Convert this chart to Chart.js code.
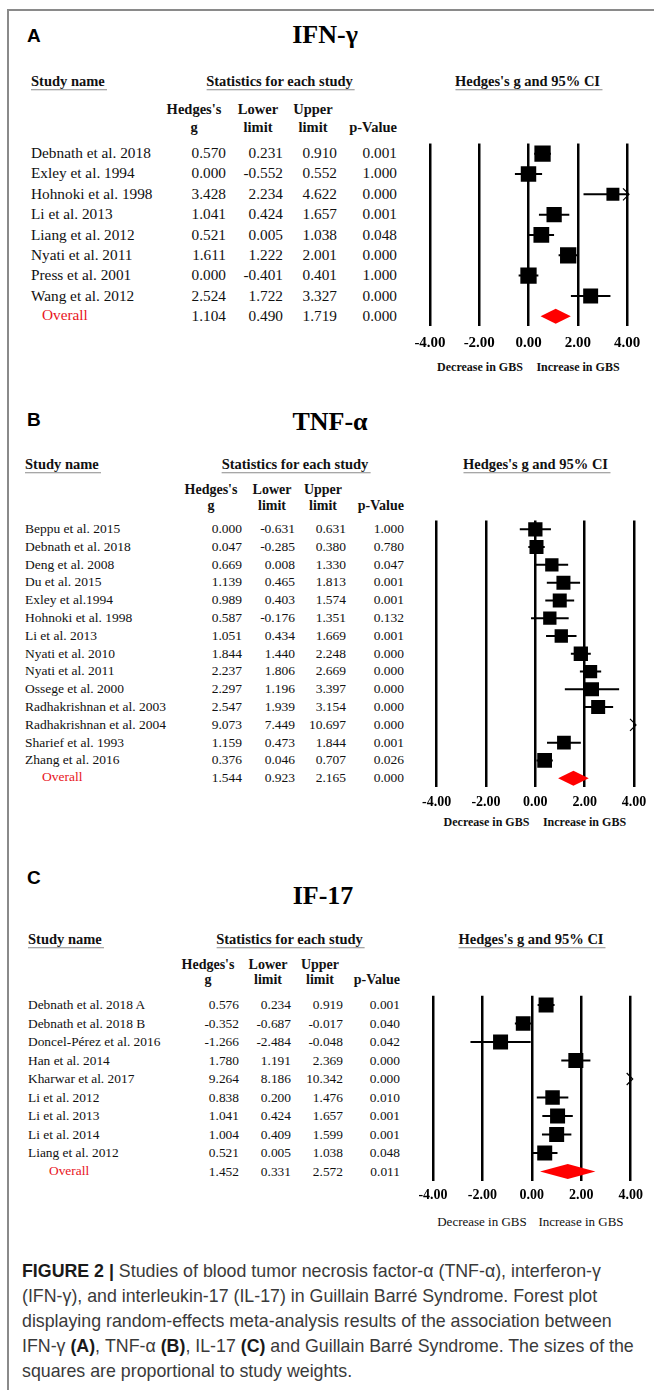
<!DOCTYPE html>
<html><head><meta charset="utf-8">
<script src="https://cdn.jsdelivr.net/npm/chart.js@4.4.0/dist/chart.umd.min.js"></script>
<style>
html,body{margin:0;padding:0;background:#fff;}
#page{position:relative;width:654px;height:1390px;overflow:hidden;background:#fff;}
.t{position:absolute;white-space:nowrap;line-height:1;font-family:"Liberation Serif","Times New Roman",serif;color:#111;}
.fr{position:absolute;background:#8a8a8a;}
canvas{position:absolute;}
#cap{position:absolute;left:22px;top:1259px;font-family:"Liberation Sans",Arial,sans-serif;font-size:17.8px;line-height:25px;color:#3a3a3a;white-space:nowrap;}
#cap b{color:#1a1a1a;}
</style>
</head><body>
<div id="page">
<div class="fr" style="left:7px;top:9px;width:1.5px;height:1400px"></div>
<div class="fr" style="left:7px;top:9px;width:660px;height:1.5px"></div>
<div id="cap"><b>FIGURE 2 |</b> Studies of blood tumor necrosis factor-α (TNF-α), interferon-γ<br>(IFN-γ), and interleukin-17 (IL-17) in Guillain Barré Syndrome. Forest plot<br>displaying random-effects meta-analysis results of the association between<br>IFN-γ <b>(A)</b>, TNF-α <b>(B)</b>, IL-17 <b>(C)</b> and Guillain Barré Syndrome. The sizes of the<br>squares are proportional to study weights.</div>
</div>
<script>
// ---------------- DATA ----------------
const tickValues = [-4, -2, 0, 2, 4];

// Panel A: IFN-γ
const ifnStudies = ["Debnath et al. 2018","Exley et al. 1994","Hohnoki et al. 1998","Li et al. 2013","Liang et al. 2012","Nyati et al. 2011","Press et al. 2001","Wang et al. 2012"];
const ifnG     = [0.570, 0.000, 3.428, 1.041, 0.521, 1.611, 0.000, 2.524];
const ifnLower = [0.231, -0.552, 2.234, 0.424, 0.005, 1.222, -0.401, 1.722];
const ifnUpper = [0.910, 0.552, 4.622, 1.657, 1.038, 2.001, 0.401, 3.327];
const ifnP     = [0.001, 1.000, 0.000, 0.001, 0.048, 0.000, 1.000, 0.000];
const ifnWeight = [13.9, 12.5, 8.8, 12.2, 13.0, 13.9, 13.9, 11.7];
const ifnOverall = [1.104, 0.490, 1.719, 0.000];

// Panel B: TNF-α
const tnfStudies = ["Beppu et al. 2015","Debnath et al. 2018","Deng et al. 2008","Du et al. 2015","Exley et al.1994","Hohnoki et al. 1998","Li et al. 2013","Nyati et al. 2010","Nyati et al. 2011","Ossege et al. 2000","Radhakrishnan et al. 2003","Radhakrishnan et al. 2004","Sharief et al. 1993","Zhang et al. 2016"];
const tnfG     = [0.000, 0.047, 0.669, 1.139, 0.989, 0.587, 1.051, 1.844, 2.237, 2.297, 2.547, 9.073, 1.159, 0.376];
const tnfLower = [-0.631, -0.285, 0.008, 0.465, 0.403, -0.176, 0.434, 1.440, 1.806, 1.196, 1.939, 7.449, 0.473, 0.046];
const tnfUpper = [0.631, 0.380, 1.330, 1.813, 1.574, 1.351, 1.669, 2.248, 2.669, 3.397, 3.154, 10.697, 1.844, 0.707];
const tnfP     = [1.000, 0.780, 0.047, 0.001, 0.001, 0.132, 0.001, 0.000, 0.000, 0.000, 0.000, 0.000, 0.001, 0.026];
const tnfWeight = [7.7, 7.4, 6.7, 7.4, 7.4, 6.7, 6.7, 7.7, 6.7, 7.4, 7.4, 5.7, 7.1, 8.2];
const tnfOverall = [1.544, 0.923, 2.165, 0.000];

// Panel C: IL-17
const il17Studies = ["Debnath et al. 2018 A","Debnath et al. 2018 B","Doncel-Pérez et al. 2016","Han et al. 2014","Kharwar et al. 2017","Li et al. 2012","Li et al. 2013","Li et al. 2014","Liang et al. 2012"];
const il17G     = [0.576, -0.352, -1.266, 1.780, 9.264, 0.838, 1.041, 1.004, 0.521];
const il17Lower = [0.234, -0.687, -2.484, 1.191, 8.186, 0.200, 0.424, 0.409, 0.005];
const il17Upper = [0.919, -0.017, -0.048, 2.369, 10.342, 1.476, 1.657, 1.599, 1.038];
const il17P     = [0.001, 0.040, 0.042, 0.000, 0.000, 0.010, 0.001, 0.001, 0.048];
const il17Weight = [11.7, 11.2, 11.7, 11.7, 7.8, 10.9, 11.7, 11.7, 11.7];
const il17Overall = [1.452, 0.331, 2.572, 0.011];

// ---------------- LAYOUT ----------------
const page = document.getElementById('page');
const SERIF = '"Liberation Serif","Times New Roman",serif';

function T(text, x, y, o) {
  const d = document.createElement('div');
  d.className = 't';
  d.textContent = text;
  d.style.left = x + 'px';
  d.style.top = y + 'px';
  d.style.fontSize = o.size + 'px';
  if (o.bold) d.style.fontWeight = 'bold';
  if (o.family) d.style.fontFamily = o.family;
  if (o.color) d.style.color = o.color;
  if (o.underline) { d.style.borderBottom = '1.5px solid #8a8a8a'; d.style.paddingRight = '2px'; }
  const tx = o.align === 'right' ? '-100%' : (o.align === 'center' ? '-50%' : '0');
  d.style.transform = 'translate(' + tx + ',-50%)';
  page.appendChild(d);
  return d;
}

function makeForest(D) {
  return {
    id: 'forest',
    beforeDatasetsDraw(chart) {
      const ctx = chart.ctx, a = chart.chartArea, x = chart.scales.x, y = chart.scales.y;
      ctx.save();
      ctx.beginPath();
      ctx.rect(a.left, a.top, a.right - a.left, a.bottom - a.top);
      ctx.clip();
      ctx.strokeStyle = '#000';
      ctx.lineWidth = 2;
      D.lower.forEach((lo, i) => {
        const yy = y.getPixelForValue(i);
        ctx.beginPath();
        ctx.moveTo(x.getPixelForValue(lo), yy);
        ctx.lineTo(x.getPixelForValue(D.upper[i]), yy);
        ctx.stroke();
      });
      ctx.restore();
      ctx.save();
      ctx.strokeStyle = '#000';
      ctx.lineWidth = 1.2;
      D.upper.forEach((hi, i) => {
        if (hi > x.max) {
          const px = x.getPixelForValue(x.max) + 2, yy = y.getPixelForValue(i);
          ctx.beginPath();
          ctx.moveTo(px - 6, yy - 6);
          ctx.lineTo(px, yy);
          ctx.lineTo(px - 6, yy + 6);
          ctx.stroke();
        }
      });
      ctx.restore();
    },
    afterDatasetsDraw(chart) {
      const ctx = chart.ctx, x = chart.scales.x, y = chart.scales.y;
      const o = D.overall, yy = y.getPixelForValue(D.names.length);
      ctx.save();
      ctx.fillStyle = '#ff0000';
      ctx.beginPath();
      ctx.moveTo(x.getPixelForValue(o[1]), yy);
      ctx.lineTo(x.getPixelForValue(o[0]), yy - 7.5);
      ctx.lineTo(x.getPixelForValue(o[2]), yy);
      ctx.lineTo(x.getPixelForValue(o[0]), yy + 7.5);
      ctx.closePath();
      ctx.fill();
      ctx.restore();
    }
  };
}

function buildPanel(P, D) {
  T(P.letter, 27, P.letterY, {size: 19, bold: true, family: '"Liberation Sans",Arial,sans-serif', color: '#000'});
  T(P.title, P.titleX, P.titleY, {size: 26, bold: true, align: 'center', color: '#000'});
  T('Study name', P.nameHdrX, P.headerY, {size: 14.5, bold: true, underline: true});
  T('Statistics for each study', P.statsX, P.headerY, {size: 14.5, bold: true, underline: true, align: 'center'});
  T("Hedges's g and 95% CI", P.ciX, P.headerY, {size: 14.5, bold: true, underline: true, align: 'center'});
  const hs = P.hdrSize;
  T("Hedges's", P.hdrC[0], P.hdrY1, {size: hs, bold: true, align: 'center'});
  T('g', P.hdrC[0], P.hdrY2, {size: hs, bold: true, align: 'center'});
  T('Lower', P.hdrC[1], P.hdrY1, {size: hs, bold: true, align: 'center'});
  T('limit', P.hdrC[1], P.hdrY2, {size: hs, bold: true, align: 'center'});
  T('Upper', P.hdrC[2], P.hdrY1, {size: hs, bold: true, align: 'center'});
  T('limit', P.hdrC[2], P.hdrY2, {size: hs, bold: true, align: 'center'});
  T('p-Value', P.numR[3], P.hdrY2, {size: hs, bold: true, align: 'right'});

  const fs = P.rowFont;
  D.names.forEach((nm, i) => {
    const yy = P.row0 + i * P.rowStep;
    T(nm, P.nameX, yy, {size: fs});
    [D.g[i], D.lower[i], D.upper[i], D.p[i]].forEach((v, k) => T(v.toFixed(3), P.numR[k], yy, {size: fs, align: 'right'}));
  });
  const yo = P.row0 + D.names.length * P.rowStep;
  T('Overall', P.overallX, yo - 1, {size: fs, color: '#e8141c'});
  D.overall.forEach((v, k) => T(v.toFixed(3), P.numR[k], yo, {size: fs, align: 'right'}));

  T('Decrease in GBS', P.decX, P.gbsY, {size: P.gbsFont, bold: P.gbsBold, align: 'center'});
  T('Increase in GBS', P.incX, P.gbsY, {size: P.gbsFont, bold: P.gbsBold, align: 'center'});

  // chart
  const n = D.names.length + 1;
  const rowTop = P.row0 - P.rowStep / 2;
  const rowBottom = P.row0 + (n - 0.5) * P.rowStep;
  const cLeft = Math.floor(P.plotLeft - 40);
  const cTop = Math.floor(rowTop - 10);
  const axisH = 40;
  const cW = 654 - cLeft;
  const cH = Math.ceil(rowBottom - cTop + axisH + 2);
  const cv = document.createElement('canvas');
  cv.width = cW; cv.height = cH;
  cv.style.left = cLeft + 'px'; cv.style.top = cTop + 'px';
  cv.style.width = cW + 'px'; cv.style.height = cH + 'px';
  page.appendChild(cv);
  const pad = {
    left: P.plotLeft - cLeft,
    right: cW - (P.plotRight - cLeft),
    top: rowTop - cTop,
    bottom: cH - axisH - (rowBottom - cTop)
  };
  const tickPad = P.tickY - rowBottom - 0.55 * P.tickFont;
  new Chart(cv, {
    type: 'scatter',
    data: {
      datasets: [{
        data: D.g.map((g, i) => ({x: g, y: i})),
        pointStyle: 'rect',
        pointRadius: D.weight.map(w => P.k * Math.sqrt(w) / Math.SQRT2),
        pointHoverRadius: D.weight.map(w => P.k * Math.sqrt(w) / Math.SQRT2),
        backgroundColor: '#000',
        borderWidth: 0
      }]
    },
    options: {
      responsive: false,
      animation: false,
      devicePixelRatio: 1,
      events: [],
      layout: {padding: pad},
      plugins: {legend: {display: false}, tooltip: {enabled: false}},
      scales: {
        x: {
          type: 'linear', min: -4, max: 4,
          afterBuildTicks: s => { s.ticks = tickValues.map(v => ({value: v})); },
          afterFit: s => { s.height = axisH; },
          ticks: {
            callback: v => Number(v).toFixed(2),
            font: {family: SERIF, weight: 'bold', size: P.tickFont},
            color: '#000', padding: tickPad, maxRotation: 0, autoSkip: false
          },
          grid: {color: '#000', lineWidth: 2.5, drawTicks: false},
          border: {display: false}
        },
        y: {type: 'linear', min: -0.5, max: n - 0.5, reverse: true, display: false}
      }
    },
    plugins: [makeForest(D)]
  });
}

buildPanel({
  letter: 'A', letterY: 35, title: 'IFN-γ', titleX: 325, titleY: 35,
  headerY: 82, nameHdrX: 31, statsX: 280.5, ciX: 528.5,
  hdrY1: 109, hdrY2: 127, hdrSize: 14.5, hdrC: [194, 258, 313],
  numR: [226, 283, 337, 397], nameX: 31, overallX: 42,
  row0: 153, rowStep: 20.4, rowFont: 15.3,
  plotLeft: 430, plotRight: 627, tickY: 342, tickFont: 15,
  gbsY: 367, gbsFont: 12, gbsBold: true, decX: 480, incX: 578, k: 4.37
}, {names: ifnStudies, g: ifnG, lower: ifnLower, upper: ifnUpper, p: ifnP, weight: ifnWeight, overall: ifnOverall});

buildPanel({
  letter: 'B', letterY: 419, title: 'TNF-α', titleX: 330, titleY: 422,
  headerY: 465, nameHdrX: 25, statsX: 296, ciX: 536.5,
  hdrY1: 490, hdrY2: 506, hdrSize: 14, hdrC: [211, 272, 323],
  numR: [242, 295, 346, 404], nameX: 25, overallX: 42,
  row0: 529, rowStep: 17.8, rowFont: 13.5,
  plotLeft: 436.7, plotRight: 634, tickY: 802, tickFont: 14,
  gbsY: 822, gbsFont: 12, gbsBold: true, decX: 486.5, incX: 584.5, k: 5.15
}, {names: tnfStudies, g: tnfG, lower: tnfLower, upper: tnfUpper, p: tnfP, weight: tnfWeight, overall: tnfOverall});

buildPanel({
  letter: 'C', letterY: 877, title: 'IF-17', titleX: 323, titleY: 896,
  headerY: 940, nameHdrX: 28, statsX: 290.5, ciX: 532,
  hdrY1: 965, hdrY2: 980, hdrSize: 14, hdrC: [208, 268, 320],
  numR: [239, 291, 343, 400], nameX: 28, overallX: 49,
  row0: 1005, rowStep: 18.5, rowFont: 13.4,
  plotLeft: 433, plotRight: 630.7, tickY: 1195, tickFont: 14,
  gbsY: 1221, gbsFont: 13, gbsBold: false, decX: 482, incX: 581, k: 4.385
}, {names: il17Studies, g: il17G, lower: il17Lower, upper: il17Upper, p: il17P, weight: il17Weight, overall: il17Overall});
</script>
</body></html>
